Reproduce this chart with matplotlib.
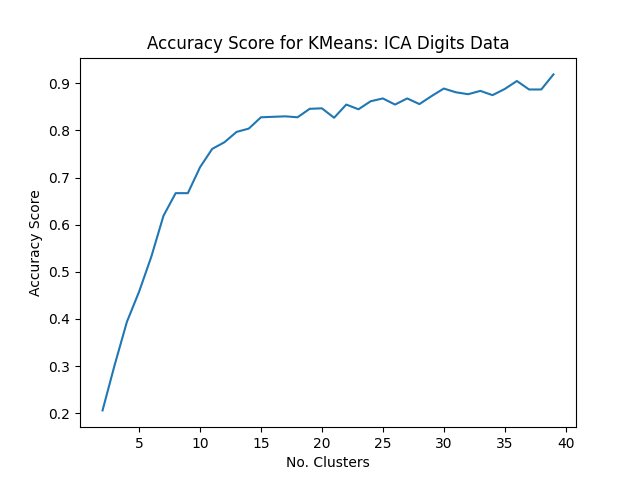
import matplotlib
matplotlib.use("Agg")
import matplotlib.pyplot as plt

n_clusters = list(range(2, 40))
accuracy = [0.206, 0.303, 0.394, 0.458, 0.532, 0.619, 0.667, 0.667, 0.722, 0.761,
            0.775, 0.797, 0.804, 0.828, 0.829, 0.830, 0.828, 0.846, 0.847, 0.827,
            0.855, 0.845, 0.862, 0.868, 0.855, 0.868, 0.856, 0.873, 0.889, 0.881,
            0.877, 0.884, 0.875, 0.888, 0.905, 0.887, 0.887, 0.919]

fig, ax = plt.subplots(figsize=(6.4, 4.8), dpi=100)
ax.plot(n_clusters, accuracy)
ax.set_title("Accuracy Score for KMeans: ICA Digits Data")
ax.set_xlabel("No. Clusters")
ax.set_ylabel("Accuracy Score")
fig.savefig("out.png")
